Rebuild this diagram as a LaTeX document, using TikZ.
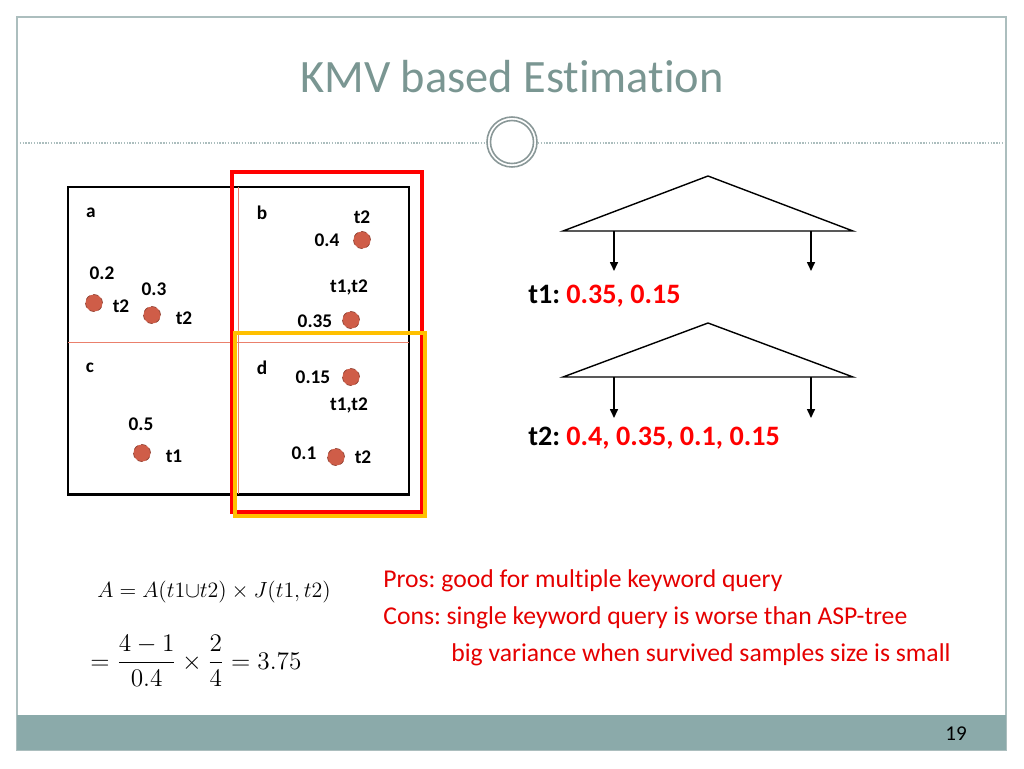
\documentclass[tikz,border=0pt]{standalone}
\usepackage{amsmath}
\usepackage{graphicx}
\usepackage[no-math]{fontspec}
\setmainfont{Carlito}[Ligatures=NoCommon]
\usepackage{xcolor}
\usetikzlibrary{arrows.meta, positioning}

\definecolor{titlegray}{RGB}{122,150,146}
\definecolor{framegray}{RGB}{172,190,190}
\definecolor{footteal}{RGB}{139,170,170}
\definecolor{dotred}{RGB}{207,93,72}
\definecolor{gridred}{RGB}{234,128,108}
\definecolor{boxorange}{RGB}{255,192,0}
\frenchspacing

\begin{document}
\begin{tikzpicture}[x=0.02cm, y=-0.02cm,
    lbl/.style={font=\fontsize{11}{12}\selectfont\bfseries, inner sep=0pt},
    dot/.style={circle, fill=dotred, draw=dotred!70!black, densely dashed, line width=0.4pt,
                minimum size=0.34cm, inner sep=0pt},
    tri/.style={draw, line width=0.8pt, line join=miter},
    arr/.style={-{Triangle[length=1.8mm, width=1.6mm]}, line width=0.9pt},
    keys/.style={font=\fontsize{16}{19}\selectfont\bfseries, inner sep=0pt, anchor=west},
    note/.style={font=\fontsize{14.6}{17}\selectfont, text=red!90!black, inner sep=0pt, anchor=west},
    eqn/.style={anchor=west, inner sep=0pt}]
  \fill[white] (0,0) rectangle (1024,768);
  \useasboundingbox (0,0) rectangle (1024,768);

  % slide frame, footer and title
  \draw[framegray, line width=0.8pt] (17,17) rectangle (1006,750);
  \fill[footteal] (17,715) rectangle (1006,750);
  \draw[framegray, line width=0.6pt, dash pattern=on 0.8pt off 0.8pt] (17,143) -- (486,143);
  \draw[framegray, line width=0.6pt, dash pattern=on 0.8pt off 0.8pt] (538,143) -- (1006,143);
  \draw[framegray!80!black, line width=0.9pt, fill=white] (512,142) circle[radius=0.5cm];
  \draw[framegray!80!black, line width=0.9pt] (512,142) circle[radius=0.43cm];
  \node[font=\fontsize{26.4}{30}\selectfont, text=titlegray, anchor=base] (title) at (512,92) {KMV based Estimation};
  \node[font=\fontsize{12}{14}\selectfont] (pgno) at (956,734) {19};

  % grid of cells
  \draw[line width=1.7pt] (68,187) rectangle (409,494);
  \draw[gridred, line width=0.5pt] (238,187) -- (238,494);
  \draw[gridred, line width=0.5pt] (68,342) -- (409,342);
  \draw[red, line width=2.3pt] (232,172) rectangle (422,512);
  \draw[boxorange, line width=2.3pt] (235,333) rectangle (425,516);

  \node[lbl] (ca) at (91,213) {a};
  \node[lbl] (cb) at (262,213) {b};
  \node[lbl] (cc) at (90,368) {c};
  \node[lbl] (cd) at (262,368) {d};

  \node[dot] (p1) at (94,303) {};
  \node[dot] (p2) at (152,315) {};
  \node[dot] (p3) at (362,240) {};
  \node[dot] (p4) at (351,320) {};
  \node[dot] (p5) at (351,377) {};
  \node[dot] (p6) at (336,457) {};
  \node[dot] (p7) at (142,453) {};

  \node[lbl] (v1) at (102,273) {0.2};  \node[lbl] (k1) at (121,306) {t2};
  \node[lbl] (v2) at (154,289) {0.3};  \node[lbl] (k2) at (184,318) {t2};
  \node[lbl] (v3) at (327,240) {0.4};  \node[lbl] (k3) at (362,217) {t2};
  \node[lbl] (v4) at (315,321) {0.35}; \node[lbl] (k4) at (349,287) {t1,t2};
  \node[lbl] (v5) at (313,377) {0.15}; \node[lbl] (k5) at (349,405) {t1,t2};
  \node[lbl] (v6) at (304,453) {0.1};  \node[lbl] (k6) at (363,457) {t2};
  \node[lbl] (v7) at (141,424) {0.5};  \node[lbl] (k7) at (174,456) {t1};

  % two trees with their lists
  \draw[tri] (563,231) -- (708,176) -- (853,231) -- cycle;
  \coordinate (a1s) at (614,231); \coordinate (a1e) at (614,271);
  \coordinate (b1s) at (811,231); \coordinate (b1e) at (811,271);
  \draw[arr] (a1s) -- (a1e); \draw[arr] (b1s) -- (b1e);
  \node[keys] (list1) at (528,296) {t1: \textcolor{red}{0.35, 0.15}};

  \draw[tri] (563,377) -- (708,323) -- (853,377) -- cycle;
  \coordinate (a2s) at (614,377); \coordinate (a2e) at (614,418);
  \coordinate (b2s) at (811,377); \coordinate (b2e) at (811,418);
  \draw[arr] (a2s) -- (a2e); \draw[arr] (b2s) -- (b2e);
  \node[keys] (list2) at (528,438) {t2: \textcolor{red}{0.4, 0.35, 0.1, 0.15}};

  % estimate and remarks
  \node[eqn, font=\fontsize{13}{15}\selectfont] (eqa) at (97,592)
       {\scalebox{1.04}{$A = A(t1{\cup}t2)\times J(t1,t2)$}};
  \node[eqn, font=\fontsize{14.5}{17}\selectfont] (eqb) at (90,661)
       {$\displaystyle =\frac{4-1}{0.4}\times\frac{2}{4}=3.75$};
  \node[note] (pros) at (383,581) {Pros: good for multiple keyword query};
  \node[note] (cons) at (383,618) {Cons: single keyword query is worse than ASP-tree};
  \node[note] (vari) at (451,655) {big variance when survived samples size is small};
\end{tikzpicture}
\end{document}
